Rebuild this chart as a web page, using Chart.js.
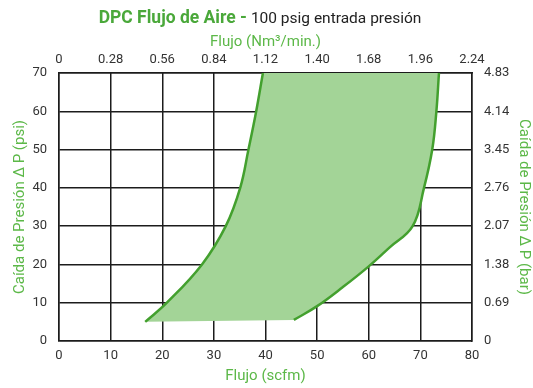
<!DOCTYPE html>
<html>
<head>
<meta charset="utf-8">
<script src="https://cdn.jsdelivr.net/npm/chart.js@4/dist/chart.umd.min.js"></script>
<style>
  html, body { margin: 0; padding: 0; background: #fff; }
  #wrap { position: relative; width: 533px; height: 388px; }
  #title {
    position: absolute; left: 0; top: 7px; width: 520px; text-align: center;
    font-family: Roboto, sans-serif; white-space: nowrap; line-height: 20px;
  }
  #title b { color: #4aa83a; font-size: 17.5px; font-weight: bold; }
  #title span { color: #222; font-size: 15.5px; }
</style>
</head>
<body>
<div id="wrap">
  <canvas id="chart" width="533" height="388"></canvas>
  <div id="title"><b>DPC Flujo de Aire -</b> <span>100 psig entrada presión</span></div>
</div>
<script>
// flow range in scfm (bottom) and pressure drop in psi (left)
const leftFlow = [16.7, 20.9, 27.7, 32.3, 35.1, 36.7, 38.2, 39.5];
const leftDrop = [5.0, 10, 20, 30, 40, 50, 60, 70];
const rightFlow = [45.5, 50.0, 55.0, 60.0, 64.0, 68.5, 70.7, 72.3, 73.1, 73.6];
const rightDrop = [5.5, 9.1, 14.1, 19.5, 24.4, 30, 40, 50, 60, 70];

// secondary axes labels
const nm3Ticks = [0, 0.28, 0.56, 0.84, 1.12, 1.40, 1.68, 1.96, 2.24];
const nm3Labels = ['0', '0.28', '0.56', '0.84', '1.12', '1.40', '1.68', '1.96', '2.24'];
const barTicks = [0, 0.69, 1.38, 2.07, 2.76, 3.45, 4.14, 4.83];
const barLabels = ['0', '0.69', '1.38', '2.07', '2.76', '3.45', '4.14', '4.83'];

const GREEN = '#43a02e';
const FILL = '#a3d497';
const AXIS_GREEN = '#5cb848';
const GRID = '#1c1c1c';
const TENSION = 0.4;
const tickFont = { family: 'Roboto', size: 13 };
const titleFont = { family: 'Roboto', size: 15 };

const leftPts = leftFlow.map((x, i) => ({ x: x, y: leftDrop[i] }));
const rightPts = rightFlow.map((x, i) => ({ x: x, y: rightDrop[i] }));
// closed outline: left curve up, across the top, right curve down.
// corner points doubled so the spline matches the separate curve lines
const lTop = leftPts[leftPts.length - 1];
const rDown = rightPts.slice().reverse();
const areaPts = leftPts.concat([lTop, rDown[0]], rDown, [rDown[rDown.length - 1]]);

new Chart(document.getElementById('chart'), {
  type: 'scatter',
  data: {
    datasets: [
      {
        data: areaPts, showLine: true, fill: 'shape', tension: TENSION,
        backgroundColor: FILL, borderWidth: 0, borderColor: 'rgba(0,0,0,0)', pointRadius: 0, order: 2
      },
      {
        data: leftPts, showLine: true, tension: TENSION, borderColor: GREEN, borderWidth: 2.5,
        pointRadius: 0, fill: false, order: 1
      },
      {
        data: rightPts, showLine: true, tension: TENSION, borderColor: GREEN, borderWidth: 2.5,
        pointRadius: 0, fill: false, order: 1
      }
    ]
  },
  options: {
    responsive: false,
    animation: false,
    layout: { padding: { top: 28, left: 0, right: 0, bottom: 0 } },
    plugins: { legend: { display: false }, tooltip: { enabled: false } },
    scales: {
      x: {
        type: 'linear', position: 'bottom', min: 0, max: 80,
        ticks: { stepSize: 10, color: '#333', font: tickFont, padding: 7, maxRotation: 0 },
        grid: { color: GRID, lineWidth: 1.5, drawTicks: false },
        border: { color: GRID, width: 1.5 },
        title: { display: true, text: 'Flujo (scfm)', color: AXIS_GREEN, font: titleFont, padding: { top: 2, bottom: 3 } },
        afterFit: (s) => { s.height = 47; }
      },
      x2: {
        type: 'linear', position: 'top', min: 0, max: 2.24, display: true,
        afterBuildTicks: (s) => { s.ticks = nm3Ticks.map(v => ({ value: v })); },
        ticks: { color: '#333', font: tickFont, padding: 5, maxRotation: 0, callback: (v, i) => nm3Labels[i] },
        grid: { display: false, drawTicks: false },
        border: { color: GRID, width: 1.5 },
        title: { display: true, text: 'Flujo (Nm³/min.)', color: AXIS_GREEN, font: titleFont, padding: { top: 5, bottom: 2 } },
        afterFit: (s) => { s.height = 45; }
      },
      y: {
        type: 'linear', position: 'left', min: 0, max: 70,
        ticks: { stepSize: 10, color: '#333', font: tickFont, padding: 12 },
        grid: { color: GRID, lineWidth: 1.5, drawTicks: false },
        border: { color: GRID, width: 1.5 },
        title: { display: true, text: 'Caída de Presión Δ P (psi)', color: AXIS_GREEN, font: titleFont, padding: { top: 11, bottom: 0 } },
        afterFit: (s) => { s.width = 59; }
      },
      y2: {
        type: 'linear', position: 'right', min: 0, max: 4.83, display: true,
        afterBuildTicks: (s) => { s.ticks = barTicks.map(v => ({ value: v })); },
        ticks: { color: '#333', font: tickFont, padding: 12, callback: (v, i) => barLabels[i] },
        grid: { display: false, drawTicks: false },
        border: { color: GRID, width: 1.5 },
        title: { display: true, text: 'Caída de Presión Δ P (bar)', color: AXIS_GREEN, font: titleFont, padding: { top: 0, bottom: 0 } },
        afterFit: (s) => { s.width = 61; }
      }
    }
  }
});
</script>
</body>
</html>
